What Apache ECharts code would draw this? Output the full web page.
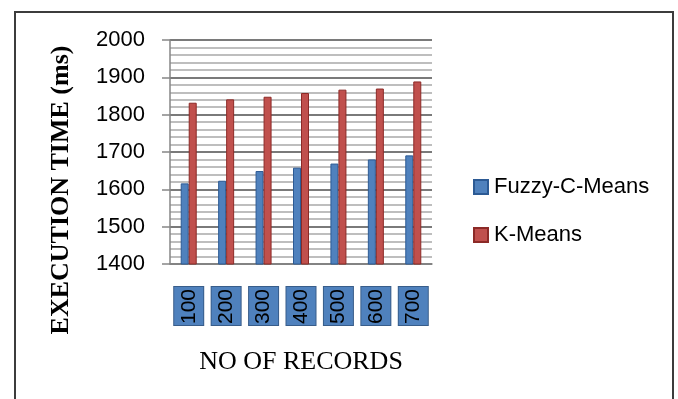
<!DOCTYPE html>
<html>
<head>
<meta charset="utf-8">
<script src="https://cdn.jsdelivr.net/npm/echarts@6/dist/echarts.min.js"></script>
<style>html,body{margin:0;padding:0;background:#fff}#c{width:678px;height:399px}</style>
</head>
<body>
<div id="c"></div>
<script>
const categories = ['100', '200', '300', '400', '500', '600', '700'];
const fuzzyCMeans = [1616, 1623, 1649, 1658, 1669, 1680, 1691];
const kMeans = [1832, 1841, 1848, 1858, 1867, 1870, 1889];
const seriesNames = ['Fuzzy-C-Means', 'K-Means'];

const chart = echarts.init(document.getElementById('c'));
chart.setOption({
  animation: false,
  backgroundColor: '#ffffff',
  graphic: [{
    type: 'rect',
    shape: { x: 15, y: 12, width: 658, height: 420 },
    style: { fill: 'none', stroke: '#3c3c3c', lineWidth: 2 },
    z: 100
  }, {
    type: 'text',
    x: 61, y: 190,
    rotation: Math.PI / 2,
    style: { text: 'EXECUTION TIME (ms)', font: 'bold 26px "Liberation Serif"', fill: '#000', align: 'center', verticalAlign: 'middle' }
  }],
  legend: {
    orient: 'vertical',
    left: 468, top: 171,
    itemWidth: 14, itemHeight: 14, itemGap: 26,
    icon: 'rect',
    textStyle: { fontFamily: 'Liberation Sans', fontSize: 22, color: '#000', padding: [0, 0, 0, 1] },
    data: seriesNames
  },
  grid: { left: 170, top: 40, width: 262, height: 224 },
  xAxis: {
    type: 'category',
    data: categories,
    name: 'NO OF RECORDS',
    nameLocation: 'middle',
    nameGap: 85,
    nameTextStyle: { fontFamily: 'Liberation Serif', fontSize: 26, color: '#000' },
    axisLine: { lineStyle: { color: '#868686', width: 1.5 } },
    axisTick: { show: false },
    axisLabel: {
      rotate: 90,
      margin: 23,
      fontFamily: 'Liberation Sans',
      fontSize: 21,
      color: '#000',
      backgroundColor: '#4f81bd',
      borderColor: '#385d8a',
      borderWidth: 1,
      padding: [3, 2, 3, 1],
      lineHeight: 23
    }
  },
  yAxis: {
    type: 'value',
    min: 1400, max: 2000, interval: 100,
    axisLine: { show: true, lineStyle: { color: '#868686', width: 1.5 } },
    axisTick: { show: true, length: 8, lineStyle: { color: '#868686', width: 1.5 } },
    axisLabel: { margin: 25, fontFamily: 'Liberation Sans', fontSize: 22, color: '#000', formatter: function (v) { return String(v); } },
    splitLine: { lineStyle: { color: '#7a7a7a', width: 2 } },
    minorTick: { show: false, splitNumber: 5 },
    minorSplitLine: { show: true, lineStyle: { color: '#a9a9a9', width: 1.5 } }
  },
  series: [{
    name: seriesNames[0], type: 'bar', data: fuzzyCMeans,
    barWidth: 8, barGap: '0%',
    itemStyle: { color: '#4f81bd', borderColor: '#2c5a94', borderWidth: 1 }
  }, {
    name: seriesNames[1], type: 'bar', data: kMeans,
    barWidth: 8,
    itemStyle: { color: '#c0504d', borderColor: '#8c2a27', borderWidth: 1 }
  }]
});
</script>
</body>
</html>
